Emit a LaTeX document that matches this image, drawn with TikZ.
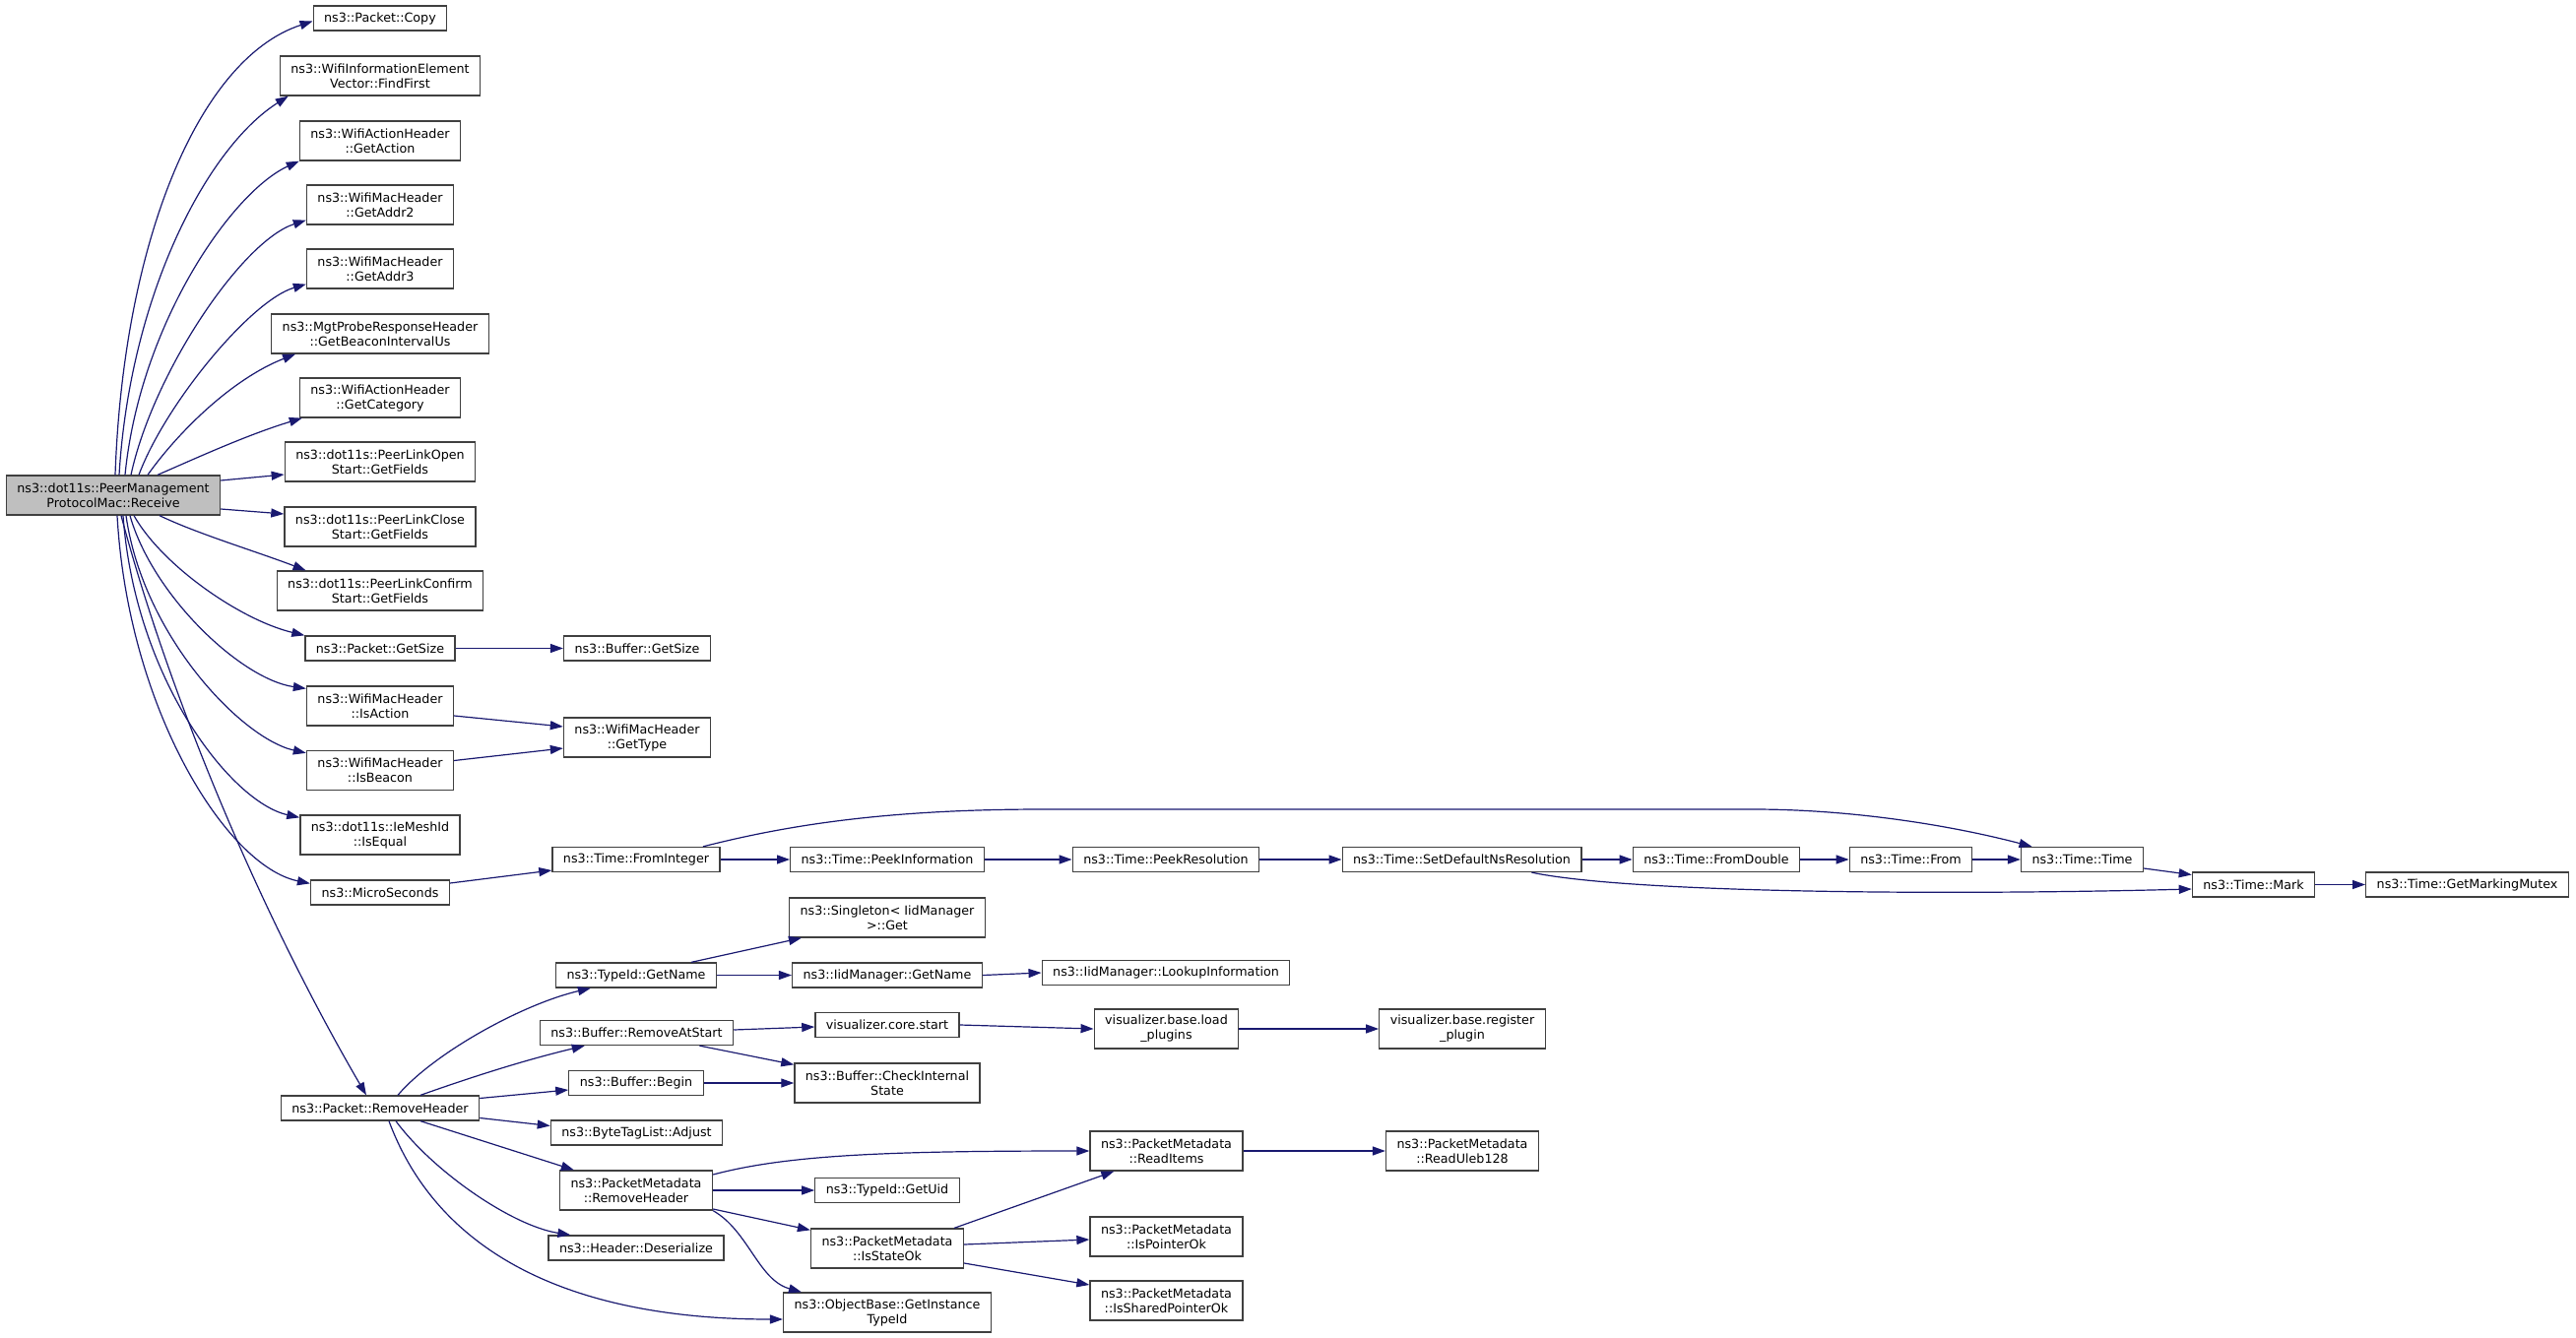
\documentclass[tikz,border=0pt]{standalone}
\usepackage{fontspec}
\setmainfont{DejaVu Sans}
\usetikzlibrary{arrows.meta}
\definecolor{edgeblue}{RGB}{25,25,112}
\definecolor{boxline}{RGB}{64,64,64}
\definecolor{curfill}{RGB}{191,191,191}
\tikzset{
	fn/.style = {draw=boxline, line width=1.3pt, fill=white, align=center, inner xsep=11pt, inner ysep=0pt, minimum height=25pt, font=\fontsize{12.7}{15}\selectfont},
	fntwo/.style = {fn, minimum height=40pt},
	cur/.style = {fntwo, fill=curfill},
	call/.style = {draw=edgeblue, line width=1.2pt, -{Triangle[length=13pt,width=9pt]}}
}

\begin{document}
\begin{tikzpicture}[x=1pt, y=-1pt]
					\useasboundingbox (0,0) rectangle (2616,1359);
					% ====== Caller ========
					\node[cur] (rec) at (115,503) {ns3::dot11s::PeerManagement\\ProtocolMac::Receive};
					% ====== First column ========
					\node[fn] (copy) at (386,18.5) {ns3::Packet::Copy};
					\node[fntwo] (findfirst) at (386,77) {ns3::WifiInformationElement\\Vector::FindFirst};
					\node[fntwo] (getaction) at (386,143) {ns3::WifiActionHeader\\::GetAction};
					\node[fntwo] (addr2) at (386,208) {ns3::WifiMacHeader\\::GetAddr2};
					\node[fntwo] (addr3) at (386,273) {ns3::WifiMacHeader\\::GetAddr3};
					\node[fntwo] (beacon) at (386,339) {ns3::MgtProbeResponseHeader\\::GetBeaconIntervalUs};
					\node[fntwo] (category) at (386,404) {ns3::WifiActionHeader\\::GetCategory};
					\node[fntwo] (lopen) at (386,469) {ns3::dot11s::PeerLinkOpen\\Start::GetFields};
					\node[fntwo] (lclose) at (386,535) {ns3::dot11s::PeerLinkClose\\Start::GetFields};
					\node[fntwo] (lconfirm) at (386,600) {ns3::dot11s::PeerLinkConfirm\\Start::GetFields};
					\node[fn] (pgetsize) at (386,658.5) {ns3::Packet::GetSize};
					\node[fntwo] (isaction) at (386,717) {ns3::WifiMacHeader\\::IsAction};
					\node[fntwo] (isbeacon) at (386,782.5) {ns3::WifiMacHeader\\::IsBeacon};
					\node[fntwo] (ismeshid) at (386,848) {ns3::dot11s::IeMeshId\\::IsEqual};
					\node[fn] (micro) at (386,906.5) {ns3::MicroSeconds};
					\node[fn] (prmhead) at (386,1125.5) {ns3::Packet::RemoveHeader};
					% ====== Second column ========
					\node[fn] (bgetsize) at (647,658.5) {ns3::Buffer::GetSize};
					\node[fntwo] (gettype) at (647,749) {ns3::WifiMacHeader\\::GetType};
					\node[fn] (fromint) at (646,873) {ns3::Time::FromInteger};
					\node[fn] (tgetname) at (646,990.5) {ns3::TypeId::GetName};
					\node[fn] (rmstart) at (646.5,1049) {ns3::Buffer::RemoveAtStart};
					\node[fn] (bbegin) at (646,1100) {ns3::Buffer::Begin};
					\node[fn] (adjust) at (646.5,1150.5) {ns3::ByteTagList::Adjust};
					\node[fntwo] (pmrmhead) at (646,1209) {ns3::PacketMetadata\\::RemoveHeader};
					\node[fn] (deser) at (646,1267.5) {ns3::Header::Deserialize};
					% ====== Third column ========
					\node[fn] (peekinfo) at (901,873) {ns3::Time::PeekInformation};
					\node[fntwo] (singleton) at (901,932) {ns3::Singleton< IidManager\\ >::Get};
					\node[fn] (igetname) at (901,990.5) {ns3::IidManager::GetName};
					\node[fn] (vstart) at (901,1041) {visualizer.core.start};
					\node[fntwo] (checkst) at (901,1100) {ns3::Buffer::CheckInternal\\State};
					\node[fn] (getuid) at (901,1209) {ns3::TypeId::GetUid};
					\node[fntwo] (stateok) at (901,1268) {ns3::PacketMetadata\\::IsStateOk};
					\node[fntwo] (instance) at (901,1333) {ns3::ObjectBase::GetInstance\\TypeId};
					% ====== Further right ========
					\node[fn] (peekres) at (1184,873) {ns3::Time::PeekResolution};
					\node[fn] (lookup) at (1184,988) {ns3::IidManager::LookupInformation};
					\node[fntwo] (loadpl) at (1184.5,1045) {visualizer.base.load\\\_plugins};
					\node[fntwo] (readitems) at (1184.5,1169) {ns3::PacketMetadata\\::ReadItems};
					\node[fntwo] (ptrok) at (1184.5,1256) {ns3::PacketMetadata\\::IsPointerOk};
					\node[fntwo] (sptrok) at (1184.5,1321) {ns3::PacketMetadata\\::IsSharedPointerOk};
					\node[fn] (setdef) at (1484.5,873) {ns3::Time::SetDefaultNsResolution};
					\node[fntwo] (regpl) at (1485,1045) {visualizer.base.register\\\_plugin};
					\node[fntwo] (readuleb) at (1485,1169) {ns3::PacketMetadata\\::ReadUleb128};
					\node[fn] (fromdouble) at (1743,873) {ns3::Time::FromDouble};
					\node[fn] (from) at (1940.5,873) {ns3::Time::From};
					\node[fn] (ttime) at (2114.5,873) {ns3::Time::Time};
					\node[fn] (mark) at (2288.5,898.5) {ns3::Time::Mark};
					\node[fn] (mutex) at (2505.5,898.5) {ns3::Time::GetMarkingMutex};
					% ====== Calls from Receive ========
					\draw[call] ([xshift=2pt]rec.north) .. controls (125,250) and (200,60) .. ([yshift=-3pt]copy.west);
					\draw[call] ([xshift=6pt]rec.north) .. controls (132,300) and (210,150) .. ([xshift=9pt]findfirst.south west);
					\draw[call] ([xshift=12pt]rec.north) .. controls (142,330) and (235,195) .. (getaction.south west);
					\draw[call] ([xshift=18pt]rec.north) .. controls (155,380) and (245,245) .. ([yshift=5pt]addr2.south west);
					\draw[call] ([xshift=26pt]rec.north) .. controls (168,410) and (255,305) .. ([yshift=5pt]addr3.south west);
					\draw[call] ([xshift=35pt]rec.north) .. controls (180,440) and (235,385) .. ([xshift=25pt]beacon.south west);
					\draw[call] ([xshift=45pt]rec.north) .. controls (200,465) and (250,442) .. ([xshift=3pt]category.south west);
					\draw[call] ([yshift=15pt]rec.east) -- ([yshift=-13pt]lopen.west);
					\draw[call] ([yshift=-14pt]rec.east) -- ([yshift=13pt]lclose.west);
					\draw[call] ([xshift=47pt]rec.south) .. controls (200,542) and (260,560) .. ([xshift=30pt]lconfirm.north west);
					\draw[call] ([xshift=21pt]rec.south) .. controls (165,575) and (245,630) .. (pgetsize.north west);
					\draw[call] ([xshift=17pt]rec.south) .. controls (155,605) and (245,690) .. ([yshift=-3pt]isaction.north west);
					\draw[call] ([xshift=13pt]rec.south) .. controls (145,645) and (245,750) .. ([yshift=-3pt]isbeacon.north west);
					\draw[call] ([xshift=10pt]rec.south) .. controls (137,690) and (235,815) .. ([yshift=-3pt]ismeshid.north west);
					\draw[call] ([xshift=4pt]rec.south) .. controls (130,720) and (230,880) .. ([yshift=-4pt]micro.north west);
					\draw[call] ([xshift=8pt]rec.south) .. controls (170,700) and (260,920) .. ([xshift=-14pt]prmhead.north);
					% ====== Time chain ========
					\draw[call] (pgetsize.east) -- (bgetsize.west);
					\draw[call] ([yshift=-10pt]isaction.east) -- ([yshift=11pt]gettype.west);
					\draw[call] ([yshift=10pt]isbeacon.east) -- ([yshift=-11pt]gettype.west);
					\draw[call] ([yshift=9.5pt]micro.east) -- ([yshift=-11pt]fromint.west);
					\draw[call] (fromint.east) -- (peekinfo.west);
					\draw[call] ([xshift=68pt]fromint.north) .. controls (800,838) and (900,822) .. (1060,822) -- (1780,822) .. controls (1880,822) and (1980,838) .. ([xshift=-51pt]ttime.north);
					\draw[call] (peekinfo.east) -- (peekres.west);
					\draw[call] (peekres.east) -- (setdef.west);
					\draw[call] (setdef.east) -- (fromdouble.west);
					\draw[call] ([xshift=71pt]setdef.south) .. controls (1650,906) and (1950,910) .. ([yshift=-4.5pt]mark.west);
					\draw[call] (fromdouble.east) -- (from.west);
					\draw[call] (from.east) -- (ttime.west);
					\draw[call] ([yshift=-9pt]ttime.east) -- ([yshift=10pt]mark.west);
					\draw[call] (mark.east) -- (mutex.west);
					% ====== Calls from RemoveHeader ========
					\draw[call] ([xshift=18pt]prmhead.north) .. controls (440,1070) and (530,1020) .. ([xshift=36pt]tgetname.south west);
					\draw[call] ([xshift=41pt]prmhead.north) .. controls (490,1090) and (540,1075) .. ([xshift=46pt]rmstart.south west);
					\draw[call] ([yshift=10pt]prmhead.east) -- ([yshift=-7pt]bbegin.west);
					\draw[call] ([yshift=-10pt]prmhead.east) -- ([yshift=7pt]adjust.west);
					\draw[call] ([xshift=41pt]prmhead.south) -- ([xshift=15pt]pmrmhead.north west);
					\draw[call] ([xshift=16pt]prmhead.south) .. controls (440,1190) and (520,1245) .. ([xshift=23pt]deser.north west);
					\draw[call] ([xshift=9pt]prmhead.south) .. controls (440,1260) and (560,1340) .. ([yshift=-7pt]instance.west);
					\draw[call] ([xshift=56pt]tgetname.north) -- ([xshift=13pt]singleton.south west);
					\draw[call] (tgetname.east) -- (igetname.west);
					\draw[call] (igetname.east) -- (lookup.west);
					\draw[call] ([yshift=3pt]rmstart.east) -- ([yshift=-2pt]vstart.west);
					\draw[call] ([xshift=64pt]rmstart.south) -- ([yshift=-2pt]checkst.north west);
					\draw[call] (bbegin.east) -- (checkst.west);
					\draw[call] (vstart.east) -- (loadpl.west);
					\draw[call] (loadpl.east) -- (regpl.west);
					\draw[call] ([yshift=16pt]pmrmhead.east) .. controls (800,1173) and (900,1169) .. (readitems.west);
					\draw[call] (pmrmhead.east) -- (getuid.west);
					\draw[call] ([yshift=-19pt]pmrmhead.east) -- ([yshift=-2pt]stateok.north west);
					\draw[call] (pmrmhead.south east) .. controls (760,1250) and (770,1300) .. ([xshift=19pt]instance.north west);
					\draw[call] ([xshift=68pt]stateok.north) -- ([xshift=25pt]readitems.south west);
					\draw[call] ([yshift=4pt]stateok.east) -- ([yshift=-3pt]ptrok.west);
					\draw[call] ([yshift=-15pt]stateok.east) -- ([yshift=16pt]sptrok.west);
					\draw[call] (readitems.east) -- (readuleb.west);
				\end{tikzpicture}
\end{document}
